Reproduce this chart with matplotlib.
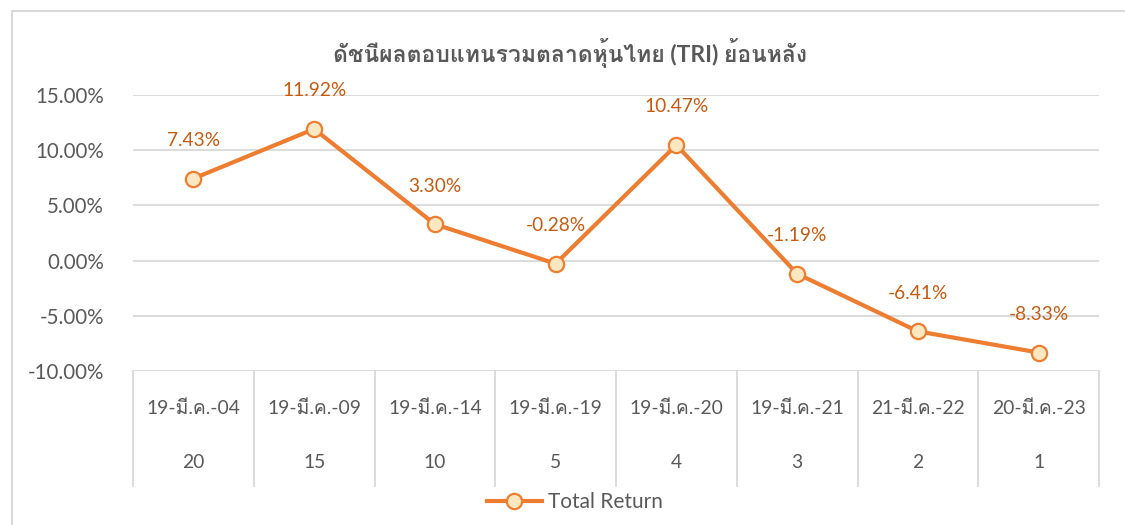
import matplotlib
matplotlib.use("Agg")
import matplotlib.pyplot as plt
from matplotlib import font_manager as fm
from matplotlib.ticker import FuncFormatter
from matplotlib.lines import Line2D
import matplotlib.transforms as mtransforms

# ---------------- data ----------------
dates = ["19-มี.ค.-04", "19-มี.ค.-09", "19-มี.ค.-14", "19-มี.ค.-19",
         "19-มี.ค.-20", "19-มี.ค.-21", "21-มี.ค.-22", "20-มี.ค.-23"]
years_back = ["20", "15", "10", "5", "4", "3", "2", "1"]
total_return = [7.43, 11.92, 3.30, -0.28, 10.47, -1.19, -6.41, -8.33]
title = "ดัชนีผลตอบแทนรวมตลาดหุ้นไทย (TRI) ย้อนหลัง"
series_name = "Total Return"

# ---------------- fonts ----------------
thai_font = None
try:
    from fontTools.ttLib import TTFont
    for f in fm.fontManager.ttflist:
        try:
            tt = TTFont(f.fname, fontNumber=0, lazy=True)
            cmap = tt.getBestCmap()
            if cmap and 0x0E14 in cmap and 0x0E35 in cmap and 0x0E04 in cmap:
                thai_font = f.name
                break
        except Exception:
            pass
except Exception:
    pass
fams = ["Lato"]
if thai_font:
    fams.append(thai_font)
fams.append("DejaVu Sans")
plt.rcParams["font.family"] = fams

GRAY = "#595959"
GRID = "#D9D9D9"
ORANGE = "#ED7D31"
LABEL = "#C55A11"
FILL = "#FCE8C0"

fig = plt.figure(figsize=(11.25, 5.25), dpi=100)
ax = fig.add_axes([133/1125, 1-371/525, (1099-133)/1125, (371-95)/525])

x = list(range(len(total_return)))
ax.plot(x, total_return, color=ORANGE, lw=3, marker="o", ms=11,
        mfc=FILL, mec=ORANGE, mew=1.6, zorder=3, clip_on=False)

for xi, v in zip(x, total_return):
    ax.annotate(f"{v:.2f}%", (xi, v), xytext=(0, 27.4), textcoords="offset points",
                ha="center", va="center", color=LABEL, fontsize=13.8)

ax.set_xlim(-0.5, len(x) - 0.5)
ax.set_ylim(-10, 15)
ax.set_yticks([-10, -5, 0, 5, 10, 15])
ax.yaxis.set_major_formatter(FuncFormatter(lambda v, p: f"{v:.2f}%"))
ax.tick_params(axis="y", length=0, pad=21, labelsize=14.8, labelcolor=GRAY)
ax.set_xticks([])
ax.grid(axis="y", color=GRID, lw=1.3)
ax.set_axisbelow(True)
for s in ax.spines.values():
    s.set_visible(False)

trans = mtransforms.blended_transform_factory(ax.transData, ax.transAxes)
depth = -(486-371)/(371-95)
for i in range(len(x) + 1):
    ax.add_line(Line2D([i - 0.5, i - 0.5], [0, depth], transform=trans,
                       color=GRID, lw=1.3, clip_on=False))
for xi, d, yb in zip(x, dates, years_back):
    ax.text(xi, -(408-371)/276, d, transform=trans, ha="center", va="center",
            color=GRAY, fontsize=13.9)
    ax.text(xi, -(463-371)/276, yb, transform=trans, ha="center", va="center",
            color=GRAY, fontsize=13.9)

fig.text(570/1125, 1-53/525, title, ha="center", va="center",
         color=GRAY, fontsize=16.5, fontweight="bold")

# legend
lh = [Line2D([], [], color=ORANGE, lw=3, marker="o", ms=11, mfc=FILL,
             mec=ORANGE, mew=1.6)]
fig.legend(lh, [series_name], loc="center", bbox_to_anchor=(575/1125, 1-502/525),
           frameon=False, fontsize=15, labelcolor=GRAY, handlelength=2.6,
           handletextpad=0.3)

# outer border
fig.add_artist(Line2D([12/1125, 1], [1-11/525, 1-11/525], transform=fig.transFigure,
                      color=GRID, lw=1.5))
fig.add_artist(Line2D([12/1125, 12/1125], [0, 1-11/525], transform=fig.transFigure,
                      color=GRID, lw=1.5))

fig.savefig("out.png", dpi=100)
